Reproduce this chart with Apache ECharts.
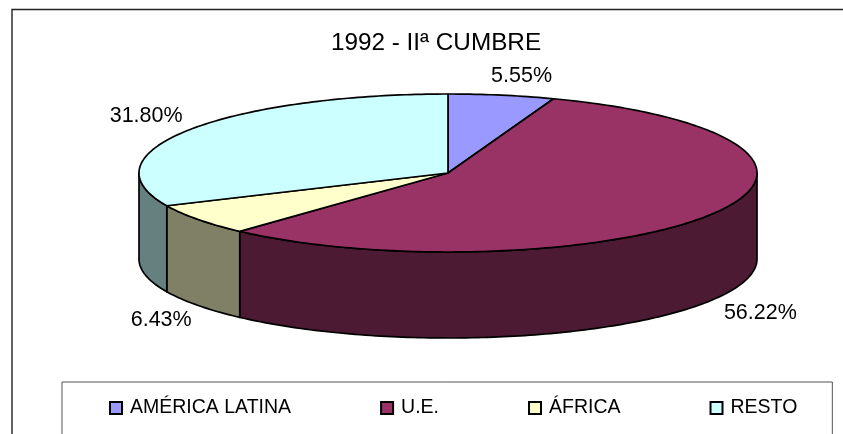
<!DOCTYPE html>
<html><head><meta charset="utf-8">
<style>html,body{margin:0;padding:0;background:#fff}#c{width:843px;height:434px}</style>
<script src="https://cdn.jsdelivr.net/npm/echarts@6/dist/echarts.min.js"></script>
</head><body><div id="c"></div>
<script>
const titleText = '1992 - IIª CUMBRE';
const categories = ['AMÉRICA LATINA', 'U.E.', 'ÁFRICA', 'RESTO'];
const shares = [5.55, 56.22, 6.43, 31.80];
const topColors = ['#9999FF', '#993366', '#FFFFCC', '#CCFFFF'];
const sideColors = ['#4D4D80', '#4D1A33', '#808066', '#668080'];

const FONT = '"Liberation Sans", Arial, sans-serif';
const total = shares.reduce((a, b) => a + b, 0);
const DEPTH = 86 / 79;                     // wall height, in y-axis units
const labelOffset = [[20, -19], [48, 13], [-37, 15], [-42, -14]];
const rad = d => d * Math.PI / 180;

function arc(api, a, b, drop) {
  const pts = [];
  const n = Math.max(1, Math.ceil(b - a));
  for (let i = 0; i <= n; i++) {
    const t = rad(a + (b - a) * i / n);
    pts.push(api.coord([Math.sin(t), Math.cos(t) - drop]));
  }
  return pts;
}

function renderer(idx) {
  return function (params, api) {
    const start = api.value(0) / total * 360;
    const end = start + api.value(1) / total * 360;
    const line = { stroke: '#000', lineWidth: 1.7, lineJoin: 'round' };
    const children = [];
    const wa = Math.max(start, 90), wb = Math.min(end, 270);
    if (wb > wa) {
      children.push({
        type: 'polygon', z2: 1,
        shape: { points: arc(api, wa, wb, 0).concat(arc(api, wa, wb, DEPTH).reverse()) },
        style: Object.assign({ fill: sideColors[idx] }, line)
      });
    }
    children.push({
      type: 'polygon', z2: 2,
      shape: { points: [api.coord([0, 0])].concat(arc(api, start, end, 0)) },
      style: Object.assign({ fill: topColors[idx] }, line)
    });
    const mid = rad((start + end) / 2);
    const front = Math.cos(mid) < 0 ? DEPTH : 0;
    const p = api.coord([Math.sin(mid), Math.cos(mid) - front]);
    children.push({
      type: 'text', z2: 3,
      style: {
        x: p[0] + labelOffset[idx][0], y: p[1] + labelOffset[idx][1],
        text: api.value(1).toFixed(2) + '%',
        textAlign: 'center', textVerticalAlign: 'middle',
        fill: '#000', font: '21.5px ' + FONT
      }
    });
    return { type: 'group', children };
  };
}

let running = 0;
const series = categories.map((name, i) => {
  const item = [running, shares[i]];
  running += shares[i];
  return {
    type: 'custom', name, coordinateSystem: 'cartesian2d', clip: false,
    silent: true, animation: false,
    itemStyle: { color: topColors[i], borderColor: '#000', borderWidth: 1 },
    renderItem: renderer(i),
    data: [item]
  };
});

const chart = echarts.init(document.getElementById('c'), null, { renderer: 'canvas' });
chart.setOption({
  animation: false,
  backgroundColor: '#fff',
  title: {
    text: titleText, left: 431, top: 38, textAlign: 'center', textVerticalAlign: 'middle',
    textStyle: { fontFamily: FONT, fontSize: 24.3, fontWeight: 'normal', color: '#000' }
  },
  grid: { left: 139, width: 618, top: 94, height: 158 },
  xAxis: { type: 'value', min: -1, max: 1, show: false },
  yAxis: { type: 'value', min: -1, max: 1, show: false },
  legend: {
    left: 62, top: 382, orient: 'horizontal',
    padding: [16, 35, 60, 47],
    itemGap: 89, itemWidth: 12, itemHeight: 12, icon: 'rect',
    borderColor: '#555', borderWidth: 1,
    selectedMode: false,
    textStyle: { fontFamily: FONT, fontSize: 19.5, color: '#000', padding: [0, 0, 0, 3] },
    data: categories
  },
  graphic: [{
    type: 'rect', silent: true, z: -1,
    shape: { x: 12, y: 9.5, width: 1000, height: 600 },
    style: { fill: 'none', stroke: '#222', lineWidth: 1.4 }
  }],
  series
});
</script></body></html>
